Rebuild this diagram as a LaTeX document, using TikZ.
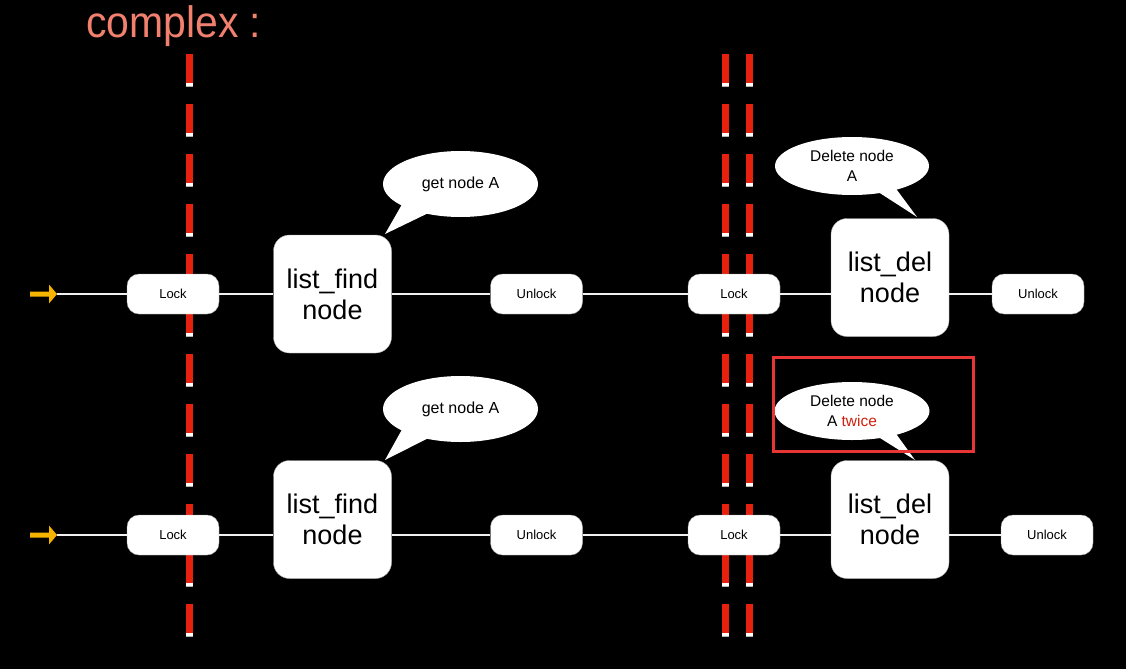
\documentclass[tikz,border=0pt]{standalone}
\usepackage{fontspec}
\setmainfont{Liberation Sans}
\usetikzlibrary{shapes.geometric,calc}
\definecolor{dashred}{HTML}{E8200E}
\definecolor{titlecol}{HTML}{F2806E}
\definecolor{arrowcol}{HTML}{F5B400}
\definecolor{twicecol}{HTML}{D0200E}
\definecolor{framered}{HTML}{E83535}
\begin{document}
\begin{tikzpicture}[x=1pt,y=-1pt,
  smallbox/.style={draw=gray!70, fill=white, rounded corners=12pt, minimum width=92pt, minimum height=40pt, inner sep=0pt, font=\fontsize{13}{15}\selectfont},
  bigbox/.style={draw=gray!70, fill=white, rounded corners=16pt, minimum width=118pt, minimum height=118pt, inner sep=0pt, align=center, font=\fontsize{27}{31}\selectfont},
  bubble/.style={ellipse, fill=white, inner sep=0pt, align=center},
  tail/.style={fill=white},
  wire/.style={draw=white!88!gray, line width=2pt},
  arrowfill/.style={fill=arrowcol}
]
\useasboundingbox (0,0) rectangle (1126,669);
\fill[black] (0,0) rectangle (1126,669);

% title
\node[anchor=base west, inner sep=0pt, text=titlecol, font=\fontsize{44}{44}\selectfont] (title) at (86,37.5) {\scalebox{0.93}[1]{complex :}};

% dashed separators
\foreach \x in {189,725,749}{
  \foreach \k in {0,...,11}{
    \fill[dashred] (\x-3.5,54+50*\k) rectangle (\x+3.5,83+50*\k);
    \fill[white] (\x-3.5,83+50*\k) rectangle (\x+3.5,86+50*\k);
    \draw[gray!60, line width=0.6pt] (\x-3.5,86+50*\k) -- (\x+3.5,86+50*\k);
  }
}

% ---------- top row ----------
\coordinate (as1) at (30,294);
\coordinate (ae1) at (57,294);
\node[smallbox] (lock1) at (173,294) {Lock};
\node[bigbox] (find1) at (332.5,294) {list\_find\\node};
\node[smallbox] (unlock1) at (536.5,294) {Unlock};
\node[smallbox] (lock2) at (734,294) {Lock};
\node[bigbox] (del1) at (890,277.5) {list\_del\\node};
\node[smallbox] (unlock2) at (1038,294) {Unlock};

\fill[arrowfill] ($(as1)+(0,-2.5)$) -- ($(ae1)+(-8,-2.5)$) -- ($(ae1)+(-8,-9.5)$) -- (ae1) -- ($(ae1)+(-8,9.5)$) -- ($(ae1)+(-8,2.5)$) -- ($(as1)+(0,2.5)$) -- cycle;
\draw[wire] (ae1) -- (lock1.west);
\draw[wire] (lock1.east) -- (find1.west);
\draw[wire] (find1.east) -- (unlock1.west);
\draw[wire] (unlock1.east) -- (lock2.west);
\draw[wire] (lock2.east) -- (lock2.east -| del1.west);
\draw[wire] (del1.east |- unlock2.west) -- (unlock2.west);

% ---------- bottom row ----------
\coordinate (as2) at (30,535);
\coordinate (ae2) at (57,535);
\node[smallbox] (lock3) at (173,535) {Lock};
\node[bigbox] (find2) at (332.5,519.5) {list\_find\\node};
\node[smallbox] (unlock3) at (536.5,535) {Unlock};
\node[smallbox] (lock4) at (734,535) {Lock};
\node[bigbox] (del2) at (890,519.5) {list\_del\\node};
\node[smallbox] (unlock4) at (1047,535) {Unlock};

\fill[arrowfill] ($(as2)+(0,-2.5)$) -- ($(ae2)+(-8,-2.5)$) -- ($(ae2)+(-8,-9.5)$) -- (ae2) -- ($(ae2)+(-8,9.5)$) -- ($(ae2)+(-8,2.5)$) -- ($(as2)+(0,2.5)$) -- cycle;
\draw[wire] (ae2) -- (lock3.west);
\draw[wire] (lock3.east) -- (lock3.east -| find2.west);
\draw[wire] (find2.east |- unlock3.west) -- (unlock3.west);
\draw[wire] (unlock3.east) -- (lock4.west);
\draw[wire] (lock4.east) -- (lock4.east -| del2.west);
\draw[wire] (del2.east |- unlock4.west) -- (unlock4.west);

% ---------- callouts ----------
% get node A (top)
\coordinate (c1c) at (460.5,184);
\coordinate (t1) at (385,234);
\fill[tail] ($(c1c)+(-56,16)$) -- (t1) -- ($(c1c)+(-30,28)$) -- cycle;
\node[bubble, minimum width=155pt, minimum height=66pt, font=\fontsize{16}{19}\selectfont] (c1) at (c1c) {get node A};

% get node A (bottom)
\coordinate (c2c) at (460.5,409);
\coordinate (t2) at (385,460);
\fill[tail] ($(c2c)+(-56,16)$) -- (t2) -- ($(c2c)+(-30,28)$) -- cycle;
\node[bubble, minimum width=155pt, minimum height=66pt, font=\fontsize{16}{19}\selectfont] (c2) at (c2c) {get node A};

% Delete node A (top)
\coordinate (d1c) at (852,166);
\coordinate (t3) at (917,217);
\fill[tail] ($(d1c)+(20,22)$) -- (t3) -- ($(d1c)+(42,20)$) -- cycle;
\node[bubble, minimum width=154pt, minimum height=58pt, font=\fontsize{15.5}{20}\selectfont] (d1) at (d1c) {Delete node\\A};

% Delete node A twice (bottom)
\coordinate (d2c) at (852,411);
\coordinate (t4) at (915,460);
\fill[tail] ($(d2c)+(20,22)$) -- (t4) -- ($(d2c)+(42,20)$) -- cycle;
\node[bubble, minimum width=155pt, minimum height=58pt, font=\fontsize{15.5}{20}\selectfont] (d2) at (d2c) {Delete node\\A \textcolor{twicecol}{twice}};

% highlight frame
\node[draw=framered, line width=2.2pt, minimum width=200pt, minimum height=94pt, inner sep=0pt] (frame) at (873.5,404.5) {};
\end{tikzpicture}
\end{document}
